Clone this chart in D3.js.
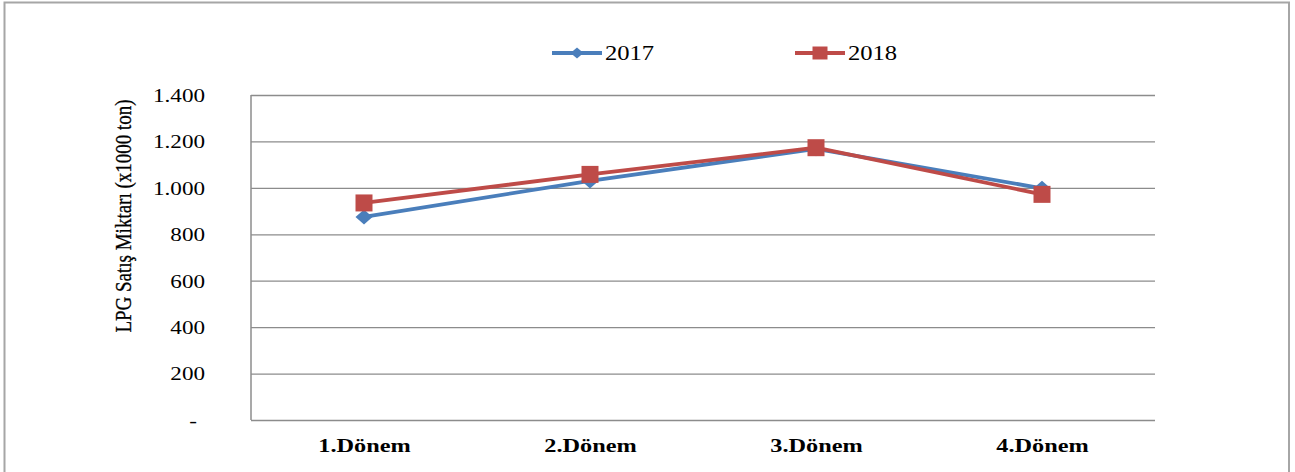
<!DOCTYPE html>
<html><head><meta charset="utf-8">
<script src="https://cdn.jsdelivr.net/npm/d3@7"></script>
<style>html,body{margin:0;padding:0;background:#fff;}svg{display:block;}</style>
</head><body>
<script>
const categories = ["1.Dönem", "2.Dönem", "3.Dönem", "4.Dönem"];
const seriesNames = ["2017", "2018"];
const values2017 = [875, 1030, 1168, 998];
const values2018 = [935, 1058, 1173, 972];
const yTicks = [0, 200, 400, 600, 800, 1000, 1200, 1400];
const colors = ["#4a7ebb", "#be4b48"];

const W = 1295, H = 472;
const M = {left: 251, right: 1155, top: 95, bottom: 420};
const SX = 1.25; // horizontal stretch of the reference text
const serif = "'Liberation Serif','Times New Roman',serif";

const svg = d3.select("body").append("svg").attr("width", W).attr("height", H);
svg.append("rect").attr("width", W).attr("height", H).attr("fill", "#fff");
// outer frame
svg.append("rect").attr("x", 4.5).attr("y", 2.5).attr("width", 1284.5).attr("height", 480)
  .attr("fill", "none").attr("stroke", "#a6a6a6").attr("stroke-width", 2);

const x = d3.scalePoint().domain(categories).range([M.left, M.right]).padding(0.5);
const y = d3.scaleLinear().domain([0, 1400]).range([M.bottom, M.top]);

// gridlines
const grid = svg.append("g").attr("transform", `translate(${M.left},0)`)
  .call(d3.axisLeft(y).tickValues(yTicks).tickSize(-(M.right - M.left)).tickFormat(""));
grid.selectAll(".tick line").attr("stroke", "#8c8c8c").attr("stroke-width", 1.3);
grid.select(".domain").remove();
// left axis line
svg.append("line").attr("x1", M.left).attr("x2", M.left).attr("y1", M.top).attr("y2", M.bottom)
  .attr("stroke", "#8c8c8c").attr("stroke-width", 1.5);

// y tick labels
const fmt = d => d === 0 ? "-" : d3.format(",")(d).replace(/,/g, ".");
const yl = svg.append("g").attr("transform", `translate(${M.left},0)`)
  .call(d3.axisLeft(y).tickValues(yTicks).tickSize(0).tickFormat(fmt));
yl.select(".domain").remove();
yl.selectAll(".tick text")
  .attr("font-family", serif).attr("font-size", 18.5).attr("fill", "#000")
  .attr("text-anchor", "end")
  .attr("x", d => d === 0 ? -54 / SX : -46 / SX)
  .attr("dy", "0.34em")
  .attr("transform", `scale(${SX},1)`);

// x labels
const xl = svg.append("g").attr("transform", `translate(0,${M.bottom})`)
  .call(d3.axisBottom(x).tickSize(0));
xl.select(".domain").remove();
xl.selectAll(".tick text")
  .attr("font-family", serif).attr("font-size", 19).attr("font-weight", "bold").attr("fill", "#000")
  .attr("y", 32).attr("dy", 0)
  .attr("transform", `scale(1.28,1)`);

// y title
svg.append("text")
  .attr("transform", `translate(131,216) scale(1.25,1) rotate(-90)`)
  .attr("text-anchor", "middle")
  .attr("font-family", serif).attr("font-size", 19).attr("fill", "#000")
  .attr("stroke", "#000").attr("stroke-width", 0.25)
  .text("LPG Satış Miktarı (x1000 ton)");

// series
const series = [values2017, values2018];
const line = d3.line().x((d, i) => x(categories[i])).y(d => y(d));
const diamond = "M0,-7.5L8.5,0L0,7.5L-8.5,0Z";
series.forEach((vals, si) => {
  const g = svg.append("g");
  g.append("path").datum(vals).attr("d", line).attr("fill", "none")
    .attr("stroke", colors[si]).attr("stroke-width", 3.8).attr("stroke-linejoin", "round");
  g.selectAll(".m").data(vals).enter().append("path")
    .attr("transform", (d, i) => `translate(${x(categories[i])},${y(d)})`)
    .attr("d", si === 0 ? diamond : "M-8.5,-8.5H8.5V8.5H-8.5Z")
    .attr("fill", colors[si]);
});

// legend
const legendX = [552, 795];
seriesNames.forEach((name, si) => {
  const lx = legendX[si], ly = 53;
  const g = svg.append("g");
  g.append("line").attr("x1", lx).attr("x2", lx + 50).attr("y1", ly).attr("y2", ly)
    .attr("stroke", colors[si]).attr("stroke-width", 3.8);
  g.append("path").attr("transform", `translate(${lx + 25},${ly})`)
    .attr("d", si === 0 ? "M0,-5.5L6.5,0L0,5.5L-6.5,0Z" : "M-7.5,-6.5H7.5V6.5H-7.5Z")
    .attr("fill", colors[si]);
  g.append("text").attr("transform", `translate(${lx + 53},${ly}) scale(1.2,1)`)
    .attr("dy", "0.35em").attr("font-family", serif).attr("font-size", 20.5).attr("fill", "#000")
    .text(name);
});
</script>
</body></html>
